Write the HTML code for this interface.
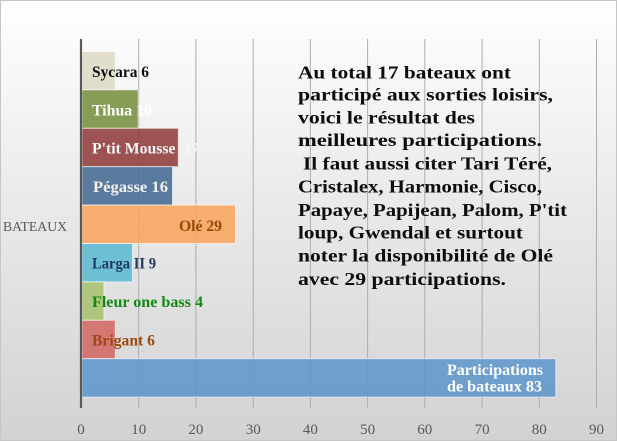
<!DOCTYPE html>
<html><head><meta charset="utf-8"><style>
html,body{margin:0;padding:0;width:617px;height:441px;overflow:hidden;background:#fff}
svg{display:block}
.t{font-family:"Liberation Serif",serif;font-weight:bold;font-size:18px;fill:#0d0d0d}
.l{font-family:"Liberation Serif",serif;font-weight:bold;font-size:15.5px}
.k{font-family:"Liberation Serif",serif;font-size:15px;fill:#595959}
</style></head><body>
<svg width="617" height="441" viewBox="0 0 617 441" xmlns="http://www.w3.org/2000/svg">
<defs>
<linearGradient id="bg" x1="0" y1="0" x2="0" y2="1">
<stop offset="0" stop-color="#ffffff"/>
<stop offset="0.5" stop-color="#e8e8e8"/>
<stop offset="1" stop-color="#d2d2d2"/>
</linearGradient>
</defs>
<rect x="0" y="0" width="617" height="441" fill="url(#bg)"/>
<rect x="0.5" y="0.5" width="616" height="440" fill="none" stroke="#c6c6c6" stroke-width="1"/>

<!-- gridlines -->
<g stroke="#adadad" stroke-width="1">
<line x1="138.7" y1="39" x2="138.7" y2="408"/>
<line x1="195.9" y1="39" x2="195.9" y2="408"/>
<line x1="253.2" y1="39" x2="253.2" y2="408"/>
<line x1="310.4" y1="39" x2="310.4" y2="408"/>
<line x1="367.6" y1="39" x2="367.6" y2="408"/>
<line x1="424.8" y1="39" x2="424.8" y2="408"/>
<line x1="482.1" y1="39" x2="482.1" y2="408"/>
<line x1="539.3" y1="39" x2="539.3" y2="408"/>
<line x1="596.5" y1="39" x2="596.5" y2="408"/>
</g>

<!-- bars -->
<g stroke="#ffffff" stroke-opacity="0.6" stroke-width="1" fill-opacity="0.88">
<rect x="82" y="51.5" width="33.3" height="38.4" fill="#dedac6"/>
<rect x="82" y="89.9" width="56.2" height="38.4" fill="#77913f"/>
<rect x="82" y="128.3" width="96.3" height="38.4" fill="#913c3a"/>
<rect x="82" y="166.7" width="90.5" height="38.4" fill="#456b93"/>
<rect x="82" y="205.1" width="153.5" height="38.4" fill="#f8a55e"/>
<rect x="82" y="243.5" width="50.5" height="38.4" fill="#5fb9d2"/>
<rect x="82" y="281.9" width="21.9" height="38.4" fill="#a9c271"/>
<rect x="82" y="320.3" width="33.3" height="38.4" fill="#d36865"/>
<rect x="82" y="358.7" width="473.8" height="38.4" fill="#6096cb"/>
</g>

<!-- axis -->
<line x1="81" y1="39" x2="81" y2="408" stroke="#595959" stroke-width="2.2"/>

<!-- bar labels -->
<text class="l" x="92" y="77" textLength="57" lengthAdjust="spacingAndGlyphs" fill="#0d0d0d">Sycara 6</text>
<text class="l" x="92" y="115.5" textLength="60" lengthAdjust="spacingAndGlyphs" fill="#ffffff">Tihua 10</text>
<text class="l" x="92" y="153.5" textLength="83.5" lengthAdjust="spacingAndGlyphs" fill="#f6f6f6">P'tit Mousse</text>
<text class="l" x="184" y="153.5" textLength="15" lengthAdjust="spacingAndGlyphs" fill="#f6f6f6">17</text>
<text class="l" x="93" y="192" textLength="75" lengthAdjust="spacingAndGlyphs" fill="#f2f2f2">Pégasse 16</text>
<text class="l" x="179" y="231" textLength="43" lengthAdjust="spacingAndGlyphs" fill="#984807">Olé 29</text>
<text class="l" x="92" y="268.5" textLength="64" lengthAdjust="spacingAndGlyphs" fill="#1f3864">Larga II 9</text>
<text class="l" x="92" y="307" textLength="111" lengthAdjust="spacingAndGlyphs" fill="#128a12">Fleur one bass 4</text>
<text class="l" x="92" y="345.5" textLength="63" lengthAdjust="spacingAndGlyphs" fill="#9a4a10">Brigant 6</text>
<text class="l" x="447" y="375" textLength="96" lengthAdjust="spacingAndGlyphs" fill="#ffffff">Participations</text>
<text class="l" x="447" y="391.5" textLength="95" lengthAdjust="spacingAndGlyphs" fill="#ffffff">de bateaux 83</text>

<!-- category label -->
<text x="3" y="231" textLength="64" lengthAdjust="spacingAndGlyphs" style="font-family:'Liberation Serif',serif;font-size:13.5px;fill:#595959">BATEAUX</text>

<!-- tick labels -->
<g text-anchor="middle">
<text class="k" x="81" y="434">0</text>
<text class="k" x="138.7" y="434">10</text>
<text class="k" x="195.9" y="434">20</text>
<text class="k" x="253.2" y="434">30</text>
<text class="k" x="310.4" y="434">40</text>
<text class="k" x="367.6" y="434">50</text>
<text class="k" x="424.8" y="434">60</text>
<text class="k" x="482.1" y="434">70</text>
<text class="k" x="539.3" y="434">80</text>
<text class="k" x="596.5" y="434">90</text>
</g>

<!-- text block -->
<text class="t" x="298" y="78.3" textLength="213" lengthAdjust="spacingAndGlyphs">Au total 17 bateaux ont</text>
<text class="t" x="298" y="100.7" textLength="255" lengthAdjust="spacingAndGlyphs">participé aux sorties loisirs,</text>
<text class="t" x="298" y="123.3" textLength="177" lengthAdjust="spacingAndGlyphs">voici le résultat des</text>
<text class="t" x="298" y="146" textLength="244" lengthAdjust="spacingAndGlyphs">meilleures participations.</text>
<text class="t" x="303" y="169.3" textLength="249" lengthAdjust="spacingAndGlyphs">Il faut aussi citer Tari Téré,</text>
<text class="t" x="298" y="192.7" textLength="244" lengthAdjust="spacingAndGlyphs">Cristalex, Harmonie, Cisco,</text>
<text class="t" x="298" y="216" textLength="269" lengthAdjust="spacingAndGlyphs">Papaye, Papijean, Palom, P'tit</text>
<text class="t" x="298" y="238.3" textLength="225" lengthAdjust="spacingAndGlyphs">loup, Gwendal et surtout</text>
<text class="t" x="298" y="261.7" textLength="255" lengthAdjust="spacingAndGlyphs">noter la disponibilité de Olé</text>
<text class="t" x="298" y="285" textLength="208" lengthAdjust="spacingAndGlyphs">avec 29 participations.</text>
</svg>
</body></html>
